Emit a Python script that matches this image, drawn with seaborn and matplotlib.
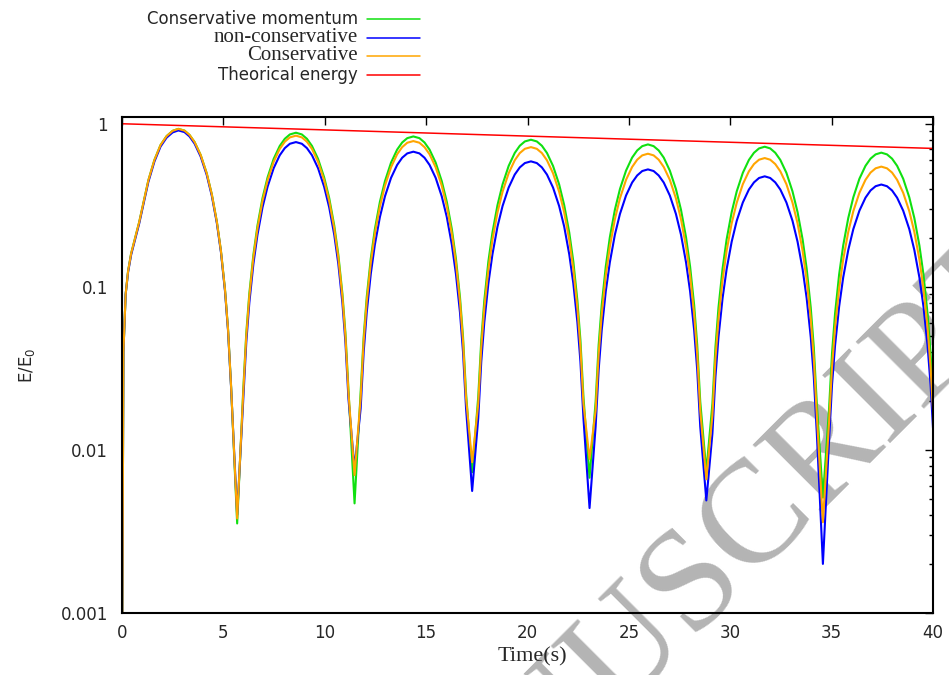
import matplotlib
matplotlib.use("Agg")
import matplotlib.pyplot as plt
from matplotlib.lines import Line2D
from matplotlib.ticker import FixedLocator, FixedFormatter, LogLocator, NullFormatter, MultipleLocator
import pandas as pd
import seaborn as sns

# time samples (s), shared by the three simulated series (one line per arch)
time_s = [0, 0.07, 0.18, 0.3, 0.45, 0.65, 0.85, 1.05, 1.3, 1.6, 1.9, 2.2, 2.5, 2.78,
          3.08, 3.33, 3.58, 3.88, 4.18, 4.43, 4.68, 4.88, 5.08, 5.23, 5.38, 5.68,
          5.98, 6.13, 6.28, 6.48, 6.68, 6.93, 7.18, 7.48, 7.78, 8.03, 8.28, 8.58,
          8.87, 9.12, 9.37, 9.67, 9.97, 10.22, 10.47, 10.67, 10.87, 11.02, 11.17, 11.47,
          11.77, 11.92, 12.07, 12.27, 12.47, 12.72, 12.97, 13.27, 13.57, 13.82, 14.07, 14.37,
          14.67, 14.92, 15.17, 15.47, 15.77, 16.02, 16.27, 16.47, 16.67, 16.82, 16.97, 17.27,
          17.57, 17.72, 17.87, 18.07, 18.27, 18.52, 18.77, 19.07, 19.37, 19.62, 19.87, 20.17,
          20.46, 20.71, 20.96, 21.26, 21.56, 21.81, 22.06, 22.26, 22.46, 22.61, 22.76, 23.06,
          23.36, 23.51, 23.66, 23.86, 24.06, 24.31, 24.56, 24.86, 25.16, 25.41, 25.66, 25.94,
          26.22, 26.47, 26.72, 27.02, 27.32, 27.57, 27.82, 28.02, 28.22, 28.37, 28.52, 28.82,
          29.12, 29.27, 29.42, 29.62, 29.82, 30.07, 30.32, 30.62, 30.92, 31.17, 31.42, 31.70,
          31.97, 32.22, 32.47, 32.77, 33.07, 33.32, 33.57, 33.77, 33.97, 34.12, 34.27, 34.57,
          34.87, 35.02, 35.17, 35.37, 35.57, 35.82, 36.07, 36.37, 36.67, 36.92, 37.17, 37.45,
          37.73, 37.98, 38.23, 38.53, 38.83, 39.08, 39.33, 39.53, 39.73, 39.88, 40.0]

cons_momentum = [0.0003, 0.04, 0.09, 0.125, 0.16, 0.2, 0.25, 0.325, 0.45, 0.60, 0.74, 0.84, 0.905, 0.93,
                 0.908, 0.854, 0.772, 0.643, 0.496, 0.369, 0.250, 0.166, 0.0961, 0.0550, 0.0246, 0.00354,
                 0.0233, 0.0521, 0.0910, 0.157, 0.237, 0.350, 0.469, 0.609, 0.731, 0.809, 0.860, 0.881,
                 0.860, 0.809, 0.731, 0.609, 0.469, 0.350, 0.237, 0.157, 0.0910, 0.0521, 0.0233, 0.0047,
                 0.0222, 0.0494, 0.0864, 0.149, 0.225, 0.332, 0.445, 0.578, 0.694, 0.768, 0.816, 0.836,
                 0.816, 0.768, 0.694, 0.578, 0.445, 0.332, 0.225, 0.149, 0.0864, 0.0494, 0.0222, 0.0073,
                 0.0211, 0.0472, 0.0824, 0.143, 0.215, 0.317, 0.425, 0.551, 0.662, 0.733, 0.779, 0.798,
                 0.779, 0.733, 0.662, 0.551, 0.425, 0.317, 0.215, 0.143, 0.0824, 0.0472, 0.0211, 0.00675,
                 0.0198, 0.0441, 0.0772, 0.133, 0.201, 0.297, 0.398, 0.516, 0.620, 0.686, 0.729, 0.747,
                 0.729, 0.686, 0.620, 0.516, 0.398, 0.297, 0.201, 0.133, 0.0772, 0.0441, 0.0198, 0.0074,
                 0.0192, 0.0427, 0.0747, 0.129, 0.195, 0.287, 0.385, 0.500, 0.600, 0.664, 0.706, 0.723,
                 0.706, 0.664, 0.600, 0.500, 0.385, 0.287, 0.195, 0.129, 0.0747, 0.0427, 0.0192, 0.0051,
                 0.0176, 0.0393, 0.0687, 0.119, 0.179, 0.264, 0.354, 0.460, 0.552, 0.611, 0.649, 0.665,
                 0.649, 0.611, 0.552, 0.460, 0.354, 0.264, 0.179, 0.119, 0.0687, 0.0393, 0.0213]

non_conservative = [0.0003, 0.04, 0.09, 0.123, 0.157, 0.196, 0.245, 0.318, 0.44, 0.587, 0.724, 0.822, 0.885, 0.91,
                    0.889, 0.836, 0.755, 0.629, 0.485, 0.361, 0.245, 0.163, 0.0940, 0.0538, 0.0241, 0.0040,
                    0.0205, 0.0456, 0.0797, 0.138, 0.208, 0.307, 0.411, 0.534, 0.641, 0.709, 0.754, 0.772,
                    0.754, 0.709, 0.641, 0.534, 0.411, 0.307, 0.208, 0.138, 0.0797, 0.0456, 0.0205, 0.0077,
                    0.0179, 0.0398, 0.0696, 0.120, 0.181, 0.268, 0.359, 0.466, 0.559, 0.619, 0.658, 0.674,
                    0.658, 0.619, 0.559, 0.466, 0.359, 0.268, 0.181, 0.120, 0.0696, 0.0398, 0.0179, 0.0056,
                    0.0156, 0.0348, 0.0607, 0.105, 0.158, 0.234, 0.313, 0.406, 0.488, 0.540, 0.574, 0.588,
                    0.574, 0.540, 0.488, 0.406, 0.313, 0.234, 0.158, 0.105, 0.0607, 0.0348, 0.0156, 0.0044,
                    0.0139, 0.0310, 0.0542, 0.0938, 0.141, 0.209, 0.280, 0.363, 0.436, 0.482, 0.513, 0.525,
                    0.513, 0.482, 0.436, 0.363, 0.280, 0.209, 0.141, 0.0938, 0.0542, 0.0310, 0.0139, 0.0049,
                    0.0126, 0.0281, 0.0492, 0.0850, 0.128, 0.189, 0.254, 0.329, 0.395, 0.437, 0.465, 0.476,
                    0.465, 0.437, 0.395, 0.329, 0.254, 0.189, 0.128, 0.0850, 0.0492, 0.0281, 0.0126, 0.0020,
                    0.0112, 0.0251, 0.0438, 0.0757, 0.114, 0.168, 0.226, 0.293, 0.352, 0.390, 0.414, 0.424,
                    0.414, 0.390, 0.352, 0.293, 0.226, 0.168, 0.114, 0.0757, 0.0438, 0.0251, 0.0136]

conservative = [0.0003, 0.04, 0.09, 0.125, 0.16, 0.2, 0.25, 0.325, 0.45, 0.60, 0.74, 0.84, 0.905, 0.93,
                0.908, 0.854, 0.772, 0.643, 0.496, 0.369, 0.250, 0.166, 0.0961, 0.0550, 0.0246, 0.0038,
                0.0224, 0.0499, 0.0873, 0.151, 0.227, 0.336, 0.450, 0.584, 0.701, 0.776, 0.825, 0.845,
                0.825, 0.776, 0.701, 0.584, 0.450, 0.336, 0.227, 0.151, 0.0873, 0.0499, 0.0224, 0.0070,
                0.0207, 0.0463, 0.0809, 0.140, 0.211, 0.311, 0.417, 0.541, 0.650, 0.719, 0.765, 0.783,
                0.765, 0.719, 0.650, 0.541, 0.417, 0.311, 0.211, 0.140, 0.0809, 0.0463, 0.0207, 0.0084,
                0.0191, 0.0425, 0.0743, 0.128, 0.194, 0.286, 0.383, 0.497, 0.597, 0.661, 0.702, 0.719,
                0.702, 0.661, 0.597, 0.497, 0.383, 0.286, 0.194, 0.128, 0.0743, 0.0425, 0.0191, 0.0088,
                0.0174, 0.0387, 0.0677, 0.117, 0.176, 0.260, 0.349, 0.453, 0.543, 0.602, 0.640, 0.655,
                0.640, 0.602, 0.543, 0.453, 0.349, 0.260, 0.176, 0.117, 0.0677, 0.0387, 0.0174, 0.0066,
                0.0163, 0.0364, 0.0636, 0.110, 0.166, 0.245, 0.328, 0.426, 0.511, 0.566, 0.602, 0.616,
                0.602, 0.566, 0.511, 0.426, 0.328, 0.245, 0.166, 0.110, 0.0636, 0.0364, 0.0163, 0.0036,
                0.0145, 0.0323, 0.0564, 0.0975, 0.147, 0.217, 0.291, 0.377, 0.453, 0.502, 0.533, 0.546,
                0.533, 0.502, 0.453, 0.377, 0.291, 0.217, 0.147, 0.0975, 0.0564, 0.0323, 0.0175]

# theoretical energy decay
theory_t = [0, 10, 20, 30, 40]
theory_e = [1.0, 0.917, 0.840, 0.770, 0.706]

y_ticks = [0.001, 0.01, 0.1, 1]
y_tick_labels = ["0.001", "0.01", "0.1", "1"]

series = [("Conservative momentum", cons_momentum, "#10e010", "DejaVu Sans", 12),
          ("non-conservative", non_conservative, "#0000ff", "Liberation Serif", 15),
          ("Conservative", conservative, "#ffa500", "Liberation Serif", 15)]

sns.set_style("white")
plt.rcParams["font.family"] = ["DejaVu Sans"]

W, H = 949, 675
fig = plt.figure(figsize=(W / 100, H / 100), dpi=100)
ax = fig.add_axes([122 / W, 1 - 613 / H, (933 - 122) / W, (613 - 117) / H])
ax.set_zorder(1)
ax.patch.set_alpha(0)

for name, vals, col, fam, fs in series:
    df = pd.DataFrame({"t": time_s, "E": vals})
    sns.lineplot(data=df, x="t", y="E", color=col, linewidth=1.5, ax=ax,
                 estimator=None, sort=False, legend=False)
df_th = pd.DataFrame({"t": theory_t, "E": theory_e})
sns.lineplot(data=df_th, x="t", y="E", color="#ff0000", linewidth=1.1, ax=ax,
             estimator=None, sort=False, legend=False)

ax.set_yscale("log")
ax.set_xlim(0, 40)
ax.set_ylim(0.001, 1.1)
ax.xaxis.set_major_locator(MultipleLocator(5))
ax.yaxis.set_major_locator(FixedLocator(y_ticks))
ax.yaxis.set_major_formatter(FixedFormatter(y_tick_labels))
ax.yaxis.set_minor_locator(LogLocator(base=10, subs=range(2, 10)))
ax.yaxis.set_minor_formatter(NullFormatter())
ax.tick_params(which="both", direction="in", top=True, right=True, color="black", width=1.0)
ax.tick_params(which="major", length=6, labelsize=12)
ax.tick_params(which="minor", length=3)
ax.tick_params(axis="y", pad=10)
ax.tick_params(axis="x", pad=8)
for s in ax.spines.values():
    s.set_color("black")
    s.set_linewidth(1.5)
ax.set_xlabel("")
ax.set_ylabel("")

fig.text(532 / W, 1 - 657 / H, "Time(s)", family="Liberation Serif", fontsize=16,
         ha="center", va="center")
fig.text(27 / W, 1 - 365 / H, r"E/E$_0$", fontsize=12, rotation=90, ha="center", va="center")

# legend drawn by hand: right aligned labels with line samples
rows = [19, 37.5, 56, 75]
labels = series + [("Theorical energy", None, "#ff0000", "DejaVu Sans", 12)]
for y, (name, _, col, fam, fs) in zip(rows, labels):
    fig.text(358 / W, 1 - y / H, name, family=fam, fontsize=fs, ha="right", va="center")
    fig.add_artist(Line2D([367 / W, 420 / W], [1 - y / H, 1 - y / H], color=col,
                          linewidth=1.1, transform=fig.transFigure))

# watermark
fig.text(684 / W, 1 - 596 / H, "MANUSCRIPT", family="Liberation Serif", fontsize=105,
         color="#b4b4b4", rotation=45, rotation_mode="anchor", ha="center", va="center", zorder=0.5)

fig.savefig("out.png", dpi=100)
